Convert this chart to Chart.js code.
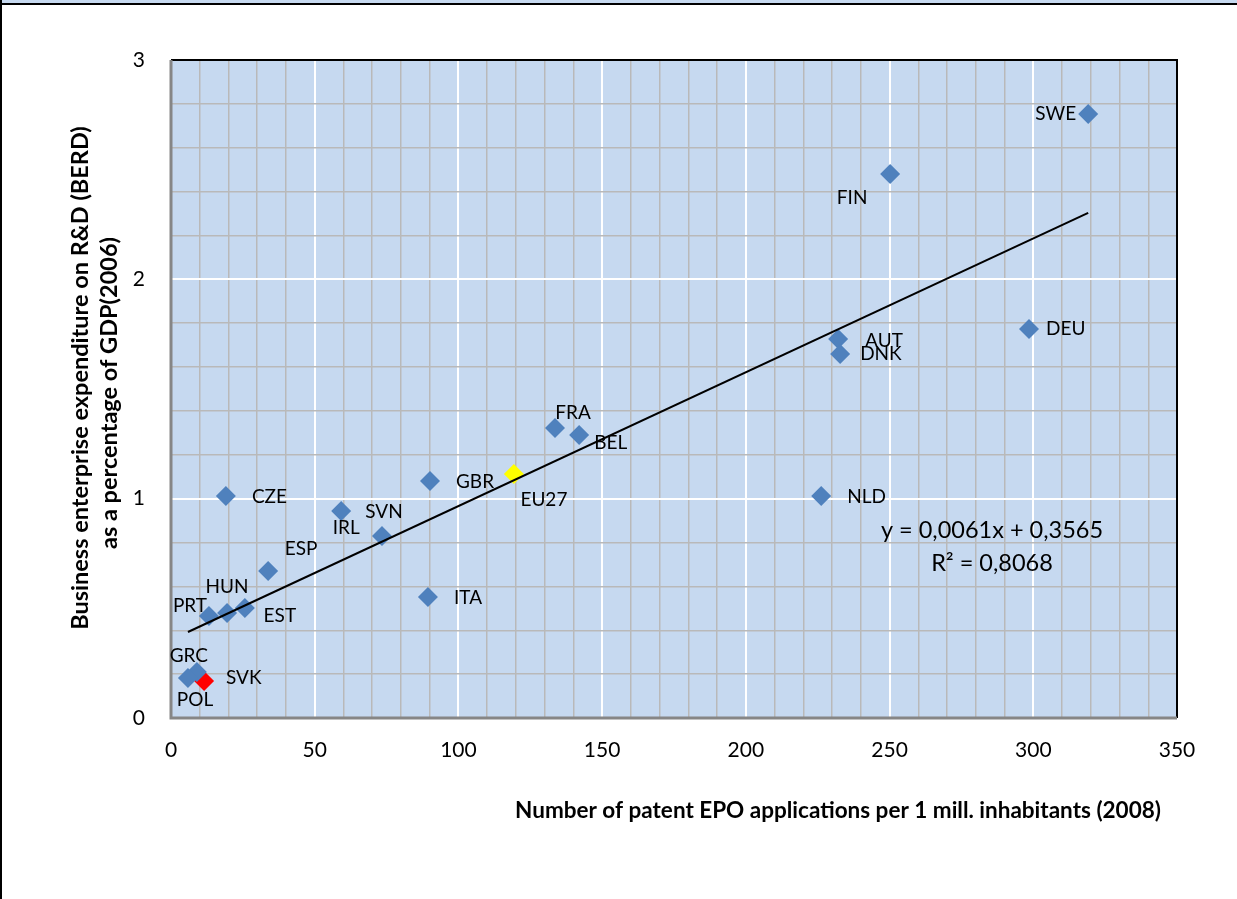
<!DOCTYPE html>
<html><head><meta charset="utf-8">
<script src="https://cdn.jsdelivr.net/npm/chart.js@4/dist/chart.umd.min.js"></script>
<style>
html,body{margin:0;padding:0;background:#fff;}
#wrap{position:relative;width:1237px;height:899px;}
</style></head>
<body>
<div id="wrap"><canvas id="c"></canvas></div>
<script>
// ---- data ----
const countries = ["SWE","FIN","DEU","AUT","DNK","NLD","FRA","BEL","GBR","CZE","IRL","SVN","ESP","ITA","EST","HUN","PRT","GRC","POL"];
const patents   = [319.1,250.2,298.5,232.1,232.8,226.2,133.6,142.0,90.1,19.1,59.2,73.4,33.8,89.4,25.7,19.5,13.2,9.0,5.9];
const berd      = [2.754,2.48,1.774,1.728,1.66,1.012,1.322,1.29,1.081,1.012,0.944,0.83,0.67,0.552,0.502,0.479,0.465,0.21,0.182];
const euLabel = ["EU27"], euPatents = [119.3], euBerd = [1.113];
const skLabel = ["SVK"], skPatents = [11.5], skBerd = [0.169];
const trendX = [5.9, 319.1];
const trendY = [0.392, 2.303];
const equationText = ["y = 0,0061x + 0,3565", "R\u00B2 = 0,8068"];
const xTitle = "Number of patent EPO applications per 1 mill. inhabitants (2008)";
const yTitle = ["Business enterprise expenditure on R&D (BERD)", "as a percentage of GDP(2006)"];

// ---- label placement (px offsets from marker; style only) ----
const labelPlace = {
  SWE:[-12,0,'right'], FIN:[-38,24,'center'], DEU:[17,0,'left'], AUT:[27,2,'left'],
  DNK:[20,0,'left'], NLD:[26,1,'left'], FRA:[18,-15,'center'], BEL:[15,8,'left'],
  EU27:[30,26,'center'], GBR:[26,1,'left'], CZE:[26,1,'left'], IRL:[5,17,'center'],
  SVN:[2,-24,'center'], ESP:[33,-22,'center'], ITA:[26,1,'left'], EST:[35,8,'center'],
  HUN:[0,-26,'center'], PRT:[-19,-10,'center'], GRC:[-8,-16,'center'], POL:[7,22,'center'],
  SVK:[22,-3,'left']
};
const FONT = "Lato, 'Open Sans', sans-serif";

const pts = patents.map((v,i)=>({x:v,y:berd[i],label:countries[i]}));
const euPts = euPatents.map((v,i)=>({x:v,y:euBerd[i],label:euLabel[i]}));
const skPts = skPatents.map((v,i)=>({x:v,y:skBerd[i],label:skLabel[i]}));
const trendPts = trendX.map((v,i)=>({x:v,y:trendY[i]}));

const isMult = (v,m)=>Math.abs(v/m - Math.round(v/m))<1e-6;

const decor = {
  id:'decor',
  beforeDraw(chart){
    const {ctx, chartArea:a} = chart;
    ctx.save();
    ctx.fillStyle='#C6D9F0'; ctx.fillRect(0,0,chart.width,3);
    ctx.fillStyle='#000'; ctx.fillRect(0,3,chart.width,2);
    ctx.fillRect(0,0,2,chart.height);
    ctx.fillStyle='#C6D9F0';
    ctx.fillRect(a.left,a.top,a.right-a.left,a.bottom-a.top);
    ctx.restore();
  },
  beforeDatasetsDraw(chart){
    const {ctx, chartArea:a} = chart;
    ctx.save();
    ctx.lineWidth=2;
    ctx.strokeStyle='#000';
    ctx.beginPath(); ctx.moveTo(a.left,a.top); ctx.lineTo(a.right,a.top); ctx.lineTo(a.right,a.bottom); ctx.stroke();
    ctx.strokeStyle='#868686'; ctx.lineWidth=3;
    ctx.beginPath(); ctx.moveTo(a.left,a.top); ctx.lineTo(a.left,a.bottom); ctx.lineTo(a.right,a.bottom); ctx.stroke();
    ctx.restore();
  },
  afterDraw(chart){
    const {ctx} = chart;
    ctx.save();
    ctx.fillStyle='#000';
    ctx.textBaseline='middle';
    ctx.font = "19px "+FONT;
    [0,1,2].forEach(di=>{
      const meta = chart.getDatasetMeta(di);
      meta.data.forEach((el,i)=>{
        const lab = chart.data.datasets[di].data[i].label;
        const p = labelPlace[lab];
        ctx.textAlign = p[2];
        ctx.fillText(lab, el.x+p[0], el.y+p[1]);
      });
    });
    ctx.font = "23.5px "+FONT;
    ctx.textAlign='center';
    ctx.fillText(equationText[0], 992, 530);
    ctx.fillText(equationText[1], 992, 563);
    ctx.font = "bold 22.5px "+FONT;
    ctx.fillText(xTitle, 838, 811);
    ctx.font = "bold 23.5px "+FONT;
    ctx.save();
    ctx.translate(80, 378); ctx.rotate(-Math.PI/2);
    ctx.fillText(yTitle[0], 0, 0);
    ctx.restore();
    ctx.save();
    ctx.translate(109, 393); ctx.rotate(-Math.PI/2);
    ctx.fillText(yTitle[1], 0, 0);
    ctx.restore();
    ctx.restore();
  }
};

new Chart(document.getElementById('c'), {
  type:'scatter',
  data:{datasets:[
    {data:pts, backgroundColor:'#4F81BD', borderWidth:0, pointStyle:'rectRot', pointRadius:10, order:1},
    {data:euPts, backgroundColor:'#FFFF00', borderWidth:0, pointStyle:'rectRot', pointRadius:10, order:1},
    {data:skPts, backgroundColor:'#FF0000', borderWidth:0, pointStyle:'rectRot', pointRadius:10, order:1},
    {type:'line', data:trendPts, borderColor:'#000', borderWidth:2, pointRadius:0, fill:false, order:0}
  ]},
  options:{
    responsive:true, maintainAspectRatio:false, animation:false,
    layout:{padding:{left:0,top:60,right:60,bottom:0}},
    plugins:{legend:{display:false}, tooltip:{enabled:false}},
    scales:{
      x:{type:'linear', min:0, max:350,
        afterFit(s){ s.height = 181; },
        border:{display:false},
        grid:{drawTicks:false, lineWidth:c=>isMult(c.tick.value,50)?2:1.5,
              color:c=>isMult(c.tick.value,50)?'#FFFFFF':'#B9B9B9'},
        ticks:{stepSize:10, autoSkip:false, maxRotation:0, padding:20, color:'#000',
               font:{family:FONT,size:21},
               callback:v=>isMult(v,50)?String(Math.round(v)):''}
      },
      y:{type:'linear', min:0, max:3,
        afterFit(s){ s.width = 171; },
        border:{display:false},
        grid:{drawTicks:false, lineWidth:c=>isMult(c.tick.value,1)?2:1.5,
              color:c=>isMult(c.tick.value,1)?'#FFFFFF':'#B9B9B9'},
        ticks:{stepSize:0.2, autoSkip:false, padding:26, color:'#000',
               font:{family:FONT,size:21},
               callback:v=>isMult(v,1)?String(Math.round(v)):''}
      }
    }
  },
  plugins:[decor]
});
</script>
</body></html>
